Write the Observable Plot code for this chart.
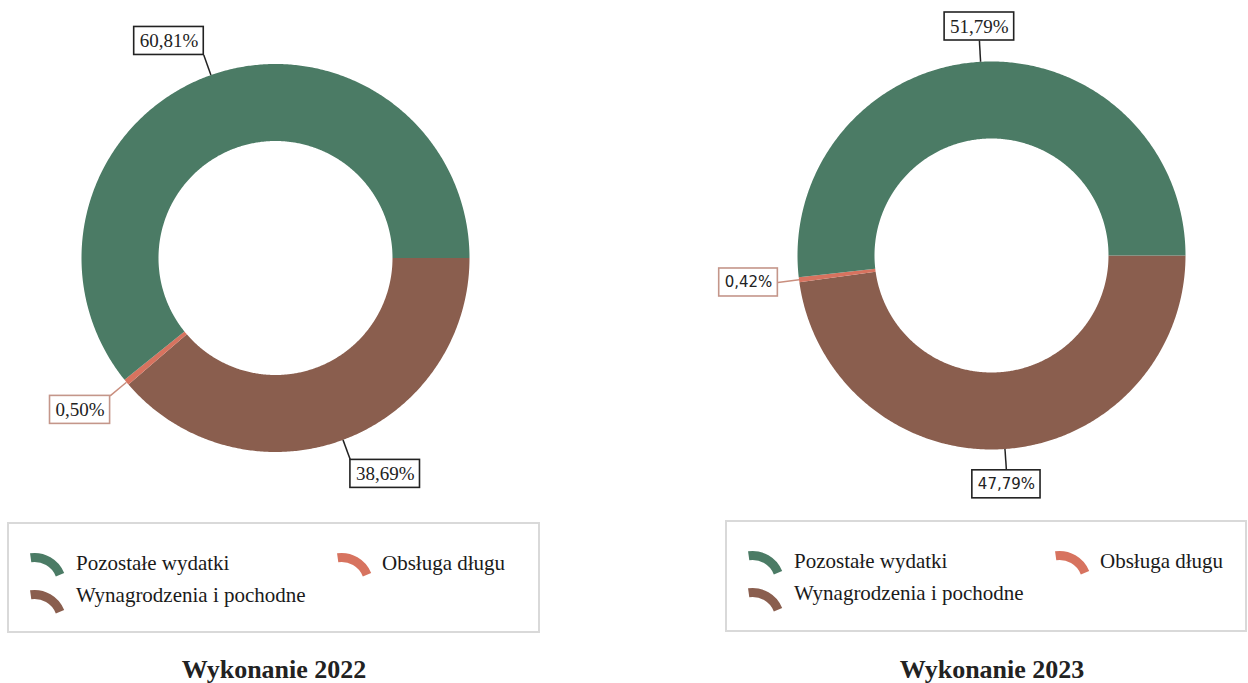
<!DOCTYPE html>
<html>
<head>
<meta charset="utf-8">
<script src="https://cdn.jsdelivr.net/npm/d3@7"></script>
<script src="https://cdn.jsdelivr.net/npm/@observablehq/plot@0.6"></script>
<style>
  html, body { margin: 0; padding: 0; background: #fff; }
  #page { position: relative; width: 1248px; height: 683px; overflow: hidden; background: #fff; }
  #page > svg, #page > div { position: absolute; }
</style>
</head>
<body>
<div id="page"></div>
<script>
// ---------------- DATA ----------------
const categories = ["Pozostałe wydatki", "Wynagrodzenia i pochodne", "Obsługa długu"];
const values2022 = [60.81, 38.69, 0.50];
const values2023 = [51.79, 47.79, 0.42];
const labels2022 = ["60,81%", "38,69%", "0,50%"];
const labels2023 = ["51,79%", "47,79%", "0,42%"];
const titles = ["Wykonanie 2022", "Wykonanie 2023"];
// slices are laid out clockwise starting at 3 o'clock in this order
const sliceOrder = ["Wynagrodzenia i pochodne", "Obsługa długu", "Pozostałe wydatki"];

// ---------------- STYLE / LAYOUT ----------------
const colors = ["#4b7b65", "#8a5e4e", "#d7735f"];
const smallCat = "Obsługa długu";
const layouts = [
  {left: 0,   W: 560, H: 515, cx: 275, cy: 257.5, R: 194, r: 117, sans: [],
   legend: {x: 7, y: 522, w: 533, h: 111}, titleX: 274},
  {left: 700, W: 548, H: 515, cx: 291, cy: 255, R: 194, r: 117, sans: ["Wynagrodzenia i pochodne", "Obsługa długu"],
   legend: {x: 725, y: 520, w: 522, h: 112}, titleX: 992}
];
const SERIF = '"Liberation Serif", "Times New Roman", serif';
const SANS = '"DejaVu Sans", sans-serif';

const ctx = document.createElement("canvas").getContext("2d");
function textWidth(t, font) { ctx.font = font; return ctx.measureText(t).width; }

const page = document.getElementById("page");

function donut(values, labels, L) {
  const total = d3.sum(values);
  const k = L.r / L.R;
  let acc = 0;
  const slices = sliceOrder.map(name => {
    const i = categories.indexOf(name);
    const a0 = acc / total * 2 * Math.PI;
    acc += values[i];
    const a1 = acc / total * 2 * Math.PI;
    return {name, a0, a1, label: labels[i]};
  });
  const poly = [];
  for (const s of slices) {
    const n = Math.max(2, Math.ceil((s.a1 - s.a0) / (Math.PI / 360)));
    for (let j = 0; j <= n; j++) {
      const t = s.a0 + (s.a1 - s.a0) * j / n;
      poly.push({name: s.name, x: Math.cos(t), y: Math.sin(t)});
    }
    for (let j = n; j >= 0; j--) {
      const t = s.a0 + (s.a1 - s.a0) * j / n;
      poly.push({name: s.name, x: k * Math.cos(t), y: k * Math.sin(t)});
    }
  }
  const lab = slices.map(s => {
    const m = (s.a0 + s.a1) / 2, c = Math.cos(m), sn = Math.sin(m);
    const sans = L.sans.includes(s.name);
    const font = sans ? '15px "DejaVu Sans"' : '19px "Liberation Serif"';
    const bw = textWidth(s.label, font) + 11, bh = 28;
    const ex = 1.11 * c, ey = 1.11 * sn;
    const ox = Math.abs(c) < 0.2 ? 0 : Math.sign(c) * bw / 2;
    const oy = Math.abs(sn) < 0.2 ? 0 : Math.sign(sn) * bh / 2;
    const lx = ex + ox / L.R, ly = ey + oy / L.R;
    return {name: s.name, label: s.label, sans, x0: c, y0: sn, ex, ey, lx, ly,
            x1: lx - bw / 2 / L.R, x2: lx + bw / 2 / L.R, y1: ly - bh / 2 / L.R, y2: ly + bh / 2 / L.R};
  });
  const isSmall = d => d.name === smallCat;
  const svg = Plot.plot({
    width: L.W, height: L.H, margin: 0,
    style: {background: "transparent"},
    x: {domain: [-L.cx / L.R, (L.W - L.cx) / L.R], range: [0, L.W], axis: null},
    y: {domain: [-L.cy / L.R, (L.H - L.cy) / L.R], range: [0, L.H], axis: null},
    color: {domain: categories, range: colors},
    marks: [
      Plot.line(poly, {x: "x", y: "y", z: "name", fill: "name", stroke: "none"}),
      Plot.link(lab, {filter: d => !isSmall(d), x1: "x0", y1: "y0", x2: "ex", y2: "ey", stroke: "#222", strokeWidth: 1.5}),
      Plot.link(lab, {filter: isSmall, x1: "x0", y1: "y0", x2: "ex", y2: "ey", stroke: "#c98e7e", strokeWidth: 1.5}),
      Plot.rect(lab, {filter: d => !isSmall(d), x1: "x1", x2: "x2", y1: "y1", y2: "y2", fill: "white", stroke: "#222", strokeWidth: 1.6}),
      Plot.rect(lab, {filter: isSmall, x1: "x1", x2: "x2", y1: "y1", y2: "y2", fill: "white", stroke: "#c4968a", strokeWidth: 1.6}),
      Plot.text(lab, {filter: d => !d.sans, x: "lx", y: "ly", text: "label", fontFamily: SERIF, fontSize: 19, fill: "#222", textAnchor: "middle"}),
      Plot.text(lab, {filter: d => d.sans, x: "lx", y: "ly", text: "label", fontFamily: SANS, fontSize: 15, fill: "#222", textAnchor: "middle"})
    ]
  });
  // make sure the label fonts are applied as styles
  const sansLabels = new Set(lab.filter(d => d.sans).map(d => d.label));
  svg.querySelectorAll("text").forEach(t => {
    const isSans = sansLabels.has(t.textContent);
    t.style.fontFamily = isSans ? SANS : SERIF;
    t.style.fontSize = isSans ? "15px" : "19px";
  });
  svg.style.left = L.left + "px";
  svg.style.top = "0px";
  return svg;
}

// overlay for legends and titles
const overlay = d3.create("svg").attr("width", 1248).attr("height", 683)
  .style("left", "0px").style("top", "0px");
const iconArc = d3.arc().innerRadius(23).outerRadius(32)
  .startAngle(-8 * Math.PI / 180).endAngle(68 * Math.PI / 180);
const legendItems = [
  {name: "Pozostałe wydatki", col: 0, row: 0},
  {name: "Obsługa długu", col: 1, row: 0},
  {name: "Wynagrodzenia i pochodne", col: 0, row: 1}
];
const colIcon = [22, 329], colText = [69, 375], rowIcon = [31, 68], rowBase = [48, 80];

layouts.forEach((L, li) => {
  const g = overlay.append("g").attr("transform", `translate(${L.legend.x},${L.legend.y})`);
  g.append("rect").attr("x", 1).attr("y", 1).attr("width", L.legend.w - 2).attr("height", L.legend.h - 2)
    .attr("fill", "white").attr("stroke", "#d9d9d9").attr("stroke-width", 2);
  for (const it of legendItems) {
    const c = colors[categories.indexOf(it.name)];
    g.append("path").attr("d", iconArc())
      .attr("transform", `translate(${colIcon[it.col] + 5.5},${rowIcon[it.row] + 32})`)
      .attr("fill", c);
    g.append("text").attr("x", colText[it.col]).attr("y", rowBase[it.row])
      .style("font-family", SERIF).style("font-size", "21px").attr("fill", "#1a1a1a")
      .text(it.name);
  }
  overlay.append("text").attr("x", L.titleX).attr("y", 678).attr("text-anchor", "middle")
    .style("font-family", SERIF).style("font-weight", "bold").style("font-size", "26px")
    .attr("fill", "#222").text(titles[li]);
});
page.appendChild(overlay.node());
page.appendChild(donut(values2022, labels2022, layouts[0]));
page.appendChild(donut(values2023, labels2023, layouts[1]));
</script>
</body>
</html>
